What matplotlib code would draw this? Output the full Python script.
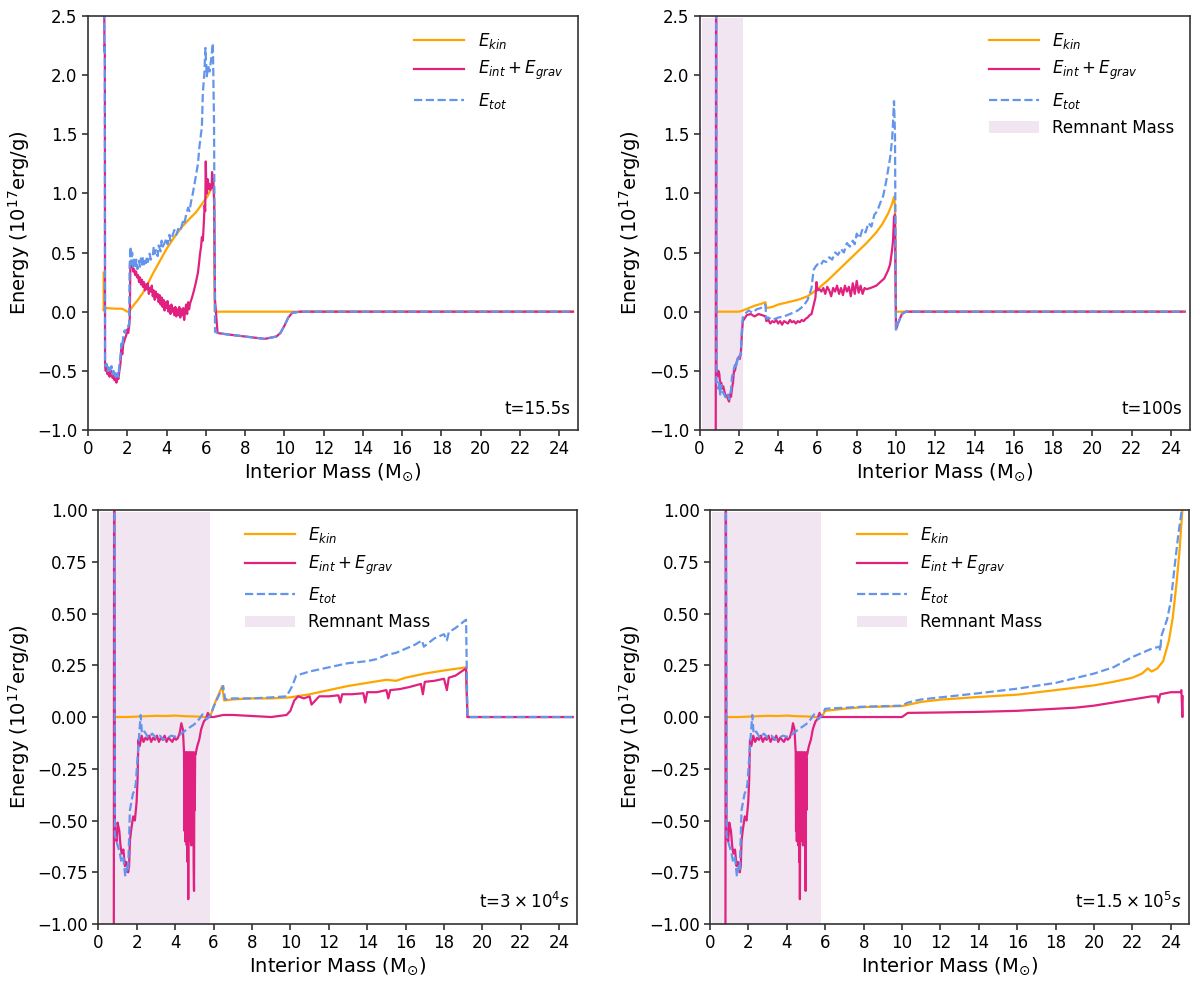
import matplotlib.pyplot as plt

c_kin = "#FFA500"
c_int = "#E0217F"
c_tot = "#6495ED"
c_rem = "purple"

# ---------------- panel 1 : t = 15.5 s ----------------
m1_kin = [0.80, 0.80, 0.82, 1.0, 1.4, 1.7, 1.8, 2.0, 2.1, 2.3, 2.5, 2.8, 3.0, 3.3, 3.6,
          4.0, 4.4, 4.8, 5.2, 5.5, 5.85, 6.1, 6.3, 6.42, 6.44, 6.46, 6.5, 24.7]
e1_kin = [0.33, 0.01, 0.03, 0.03, 0.025, 0.025, 0.02, 0.0, 0.0, 0.05, 0.09, 0.16, 0.22, 0.32, 0.41,
          0.53, 0.63, 0.72, 0.79, 0.84, 0.92, 0.98, 1.05, 1.05, 0.35, 0.0, 0.0, 0.0]

m1_int = [0.82, 0.84, 0.86, 0.87, 0.90, 0.95, 1.0, 1.05, 1.1, 1.15, 1.2, 1.25, 1.3, 1.35, 1.4,
          1.45, 1.5, 1.55, 1.6, 1.65, 1.7, 1.75, 1.8, 1.85, 1.9, 1.95, 2.0, 2.05, 2.1, 2.13,
          2.16, 2.2, 2.25, 2.3, 2.35, 2.4, 2.45, 2.5, 2.55, 2.6, 2.65, 2.7, 2.75, 2.8, 2.85, 2.9,
          2.95, 3.0, 3.05, 3.1, 3.15, 3.2, 3.25, 3.3, 3.35, 3.4, 3.45, 3.5, 3.55, 3.6, 3.65, 3.7,
          3.75, 3.8, 3.85, 3.9, 3.95, 4.0, 4.05, 4.1, 4.15, 4.2, 4.25, 4.3, 4.35, 4.4, 4.45, 4.5,
          4.55, 4.6, 4.65, 4.7, 4.75, 4.8, 4.85, 4.9, 4.95, 5.0, 5.05, 5.1, 5.15, 5.2, 5.3, 5.4,
          5.5, 5.6, 5.65, 5.7, 5.76, 5.8, 5.85, 5.9, 5.94, 5.97, 6.0, 6.02, 6.06, 6.1, 6.15,
          6.19, 6.23, 6.26, 6.3, 6.32, 6.36, 6.38, 6.43, 6.47]
e1_int = [3.0, 2.2, 2.25, -0.45, -0.5, -0.48, -0.53, -0.5, -0.55, -0.52, -0.5, -0.56, -0.54, -0.58, -0.56,
          -0.6, -0.55, -0.57, -0.5, -0.45, -0.32, -0.36, -0.27, -0.25, -0.22, -0.2, -0.15, -0.18, -0.12, -0.05,
          0.40, 0.38, 0.41, 0.34, 0.36, 0.31, 0.34, 0.29, 0.31, 0.25, 0.29, 0.23, 0.27, 0.21, 0.25, 0.18,
          0.23, 0.19, 0.24, 0.15, 0.2, 0.17, 0.22, 0.13, 0.18, 0.1, 0.17, 0.12, 0.15, 0.08, 0.14, 0.06,
          0.12, 0.04, 0.1, 0.01, 0.08, 0.03, 0.09, 0.0, 0.05, -0.02, 0.06, 0.0, 0.03, -0.03, 0.04, -0.04,
          0.02, -0.03, 0.04, -0.05, 0.02, -0.03, 0.03, -0.07, 0.01, 0.06, -0.02, 0.08, 0.02, 0.07, 0.12, 0.18,
          0.25, 0.33, 0.4, 0.48, 0.55, 0.63, 0.6, 0.75, 0.9, 0.85, 1.27, 1.09, 1.0, 1.12, 1.04,
          1.08, 1.03, 1.07, 1.05, 1.18, 1.08, 1.12, 0.9, 0.1]

m1_tot = [0.82, 0.84, 0.86, 0.87, 0.90, 0.95, 1.0, 1.05, 1.1, 1.15, 1.2, 1.25, 1.3, 1.35, 1.4,
          1.45, 1.5, 1.55, 1.6, 1.65, 1.7, 1.75, 1.8, 1.86, 1.9, 1.95, 2.03, 2.1, 2.12,
          2.17, 2.2, 2.25, 2.3, 2.35, 2.4, 2.46, 2.52, 2.6, 2.65, 2.7, 2.75, 2.8, 2.85, 2.9, 2.95,
          3.0, 3.05, 3.14, 3.2, 3.3, 3.35, 3.4, 3.47, 3.55, 3.6, 3.7, 3.75, 3.81, 3.9, 4.0,
          4.05, 4.15, 4.2, 4.3, 4.4, 4.5, 4.6, 4.7, 4.83, 4.9, 5.0, 5.1, 5.17, 5.25, 5.34, 5.5,
          5.6, 5.68, 5.76, 5.8, 5.85, 5.93, 5.98, 6.05, 6.12, 6.19, 6.27, 6.36, 6.42, 6.47]
e1_tot = [3.0, 2.2, 2.25, -0.45, -0.46, -0.44, -0.5, -0.47, -0.52, -0.48, -0.46, -0.53, -0.5, -0.55, -0.52,
          -0.57, -0.52, -0.55, -0.45, -0.38, -0.27, -0.3, -0.2, -0.16, -0.18, -0.13, -0.13, -0.1, 0.38,
          0.55, 0.4, 0.5, 0.38, 0.44, 0.37, 0.44, 0.36, 0.43, 0.38, 0.45, 0.39, 0.46, 0.4, 0.45, 0.41,
          0.47, 0.42, 0.49, 0.44, 0.47, 0.55, 0.49, 0.52, 0.47, 0.56, 0.51, 0.6, 0.55, 0.58, 0.62,
          0.57, 0.65, 0.6, 0.64, 0.69, 0.65, 0.7, 0.68, 0.76, 0.74, 0.82, 0.88, 0.85, 0.93, 1.0, 1.15,
          1.25, 1.4, 1.51, 1.55, 1.85, 2.02, 2.23, 1.99, 2.08, 2.03, 2.13, 2.27, 1.6, -0.17]

m1_tail = [6.6, 7.0, 7.5, 8.0, 8.5, 9.0, 9.3, 9.6, 9.8, 10.0, 10.2, 10.4, 10.8, 24.7]
e1_tail = [-0.18, -0.19, -0.2, -0.21, -0.22, -0.23, -0.22, -0.21, -0.18, -0.12, -0.05, -0.01, 0.0, 0.0]

# ---------------- panel 2 : t = 100 s ----------------
m2_kin = [0.86, 1.5, 2.0, 2.2, 2.5, 2.8, 3.0, 3.2, 3.35, 3.4, 3.7, 4.0, 4.5, 5.0, 5.5, 6.0, 6.5,
          7.0, 7.5, 8.0, 8.5, 9.0, 9.3, 9.6, 9.8, 9.9, 9.95, 10.0, 24.7]
e2_kin = [0.0, 0.0, 0.0, 0.01, 0.03, 0.05, 0.06, 0.07, 0.08, 0.03, 0.04, 0.06, 0.08, 0.1, 0.13, 0.19, 0.26,
          0.34, 0.42, 0.5, 0.58, 0.67, 0.74, 0.83, 0.91, 0.97, 0.9, 0.0, 0.0]

m2_int = [0.82, 0.84, 0.86, 0.9, 0.95, 1.0, 1.05, 1.1, 1.15, 1.2, 1.3, 1.4, 1.5, 1.55, 1.6, 1.65,
          1.7, 1.75, 1.8, 1.85, 1.9, 1.95, 2.0, 2.05, 2.1, 2.15, 2.2, 2.4, 2.6, 2.8, 3.0, 3.2,
          3.35, 3.4, 3.5, 3.6, 3.7, 3.8, 3.9, 4.0, 4.1, 4.2, 4.3, 4.4, 4.5, 4.6, 4.7, 4.8, 4.9,
          5.0, 5.1, 5.2, 5.3, 5.4, 5.5, 5.6, 5.7, 5.8, 5.9, 5.95,
          6.0, 6.1, 6.2, 6.3, 6.4, 6.5, 6.6, 6.7, 6.8, 6.9, 7.0, 7.1, 7.2, 7.3, 7.4, 7.5, 7.6,
          7.7, 7.8, 7.9, 8.0, 8.1, 8.2, 8.3, 8.4, 8.5, 8.7, 9.0, 9.2, 9.4, 9.6, 9.7, 9.8, 9.85,
          9.9, 9.95, 10.0]
e2_int = [-1.5, 3.0, -0.55, -0.55, -0.5, -0.52, -0.62, -0.6, -0.65, -0.63, -0.7, -0.72, -0.76, -0.7, -0.72, -0.65,
          -0.6, -0.5, -0.5, -0.45, -0.42, -0.4, -0.38, -0.4, -0.35, -0.2, -0.08, -0.03, -0.02, -0.04, -0.02, -0.03,
          -0.04, -0.08, -0.07, -0.1, -0.08, -0.09, -0.07, -0.1, -0.08, -0.11, -0.08, -0.09, -0.1, -0.07, -0.09, -0.08, -0.1,
          -0.08, -0.09, -0.07, -0.08, -0.06, -0.05, -0.03, -0.02, 0.05, 0.12, 0.25,
          0.18, 0.19, 0.17, 0.2, 0.15, 0.21, 0.18, 0.13, 0.2, 0.17, 0.22, 0.15, 0.2, 0.14, 0.22, 0.17, 0.21,
          0.13, 0.24, 0.15, 0.26, 0.16, 0.22, 0.15, 0.2, 0.19, 0.2, 0.22, 0.25, 0.28, 0.35, 0.4, 0.52, 0.6,
          0.8, 0.82, -0.15]

m2_tot = [0.84, 0.86, 0.9, 0.95, 1.0, 1.05, 1.1, 1.15, 1.2, 1.3, 1.4, 1.45, 1.5, 1.55, 1.6, 1.65,
          1.7, 1.75, 1.8, 1.85, 1.9, 1.95, 2.0, 2.1, 2.15, 2.2, 2.3, 2.5, 2.7, 2.9, 3.1, 3.3,
          3.35, 3.4, 3.5, 3.7, 4.0, 4.3, 4.6, 5.0, 5.3, 5.5, 5.7, 5.8, 5.9, 6.0, 6.15, 6.3, 6.45,
          6.6, 6.75, 6.9, 7.05, 7.2, 7.35, 7.5, 7.65, 7.8, 7.9, 8.0, 8.15, 8.3, 8.45, 8.6, 8.75,
          8.9, 9.05, 9.2, 9.35, 9.5, 9.6, 9.7, 9.8, 9.85, 9.9, 9.95, 10.0]
e2_tot = [3.0, -0.6, -0.6, -0.65, -0.6, -0.7, -0.62, -0.68, -0.68, -0.72, -0.73, -0.7, -0.74, -0.7, -0.66, -0.55,
          -0.52, -0.48, -0.45, -0.48, -0.42, -0.38, -0.4, -0.35, -0.15, -0.05, -0.02, 0.01, -0.01, 0.02, 0.03, 0.05,
          0.06, -0.06, -0.05, -0.07, -0.05, -0.04, -0.02, 0.01, 0.05, 0.1, 0.2, 0.35, 0.38, 0.4, 0.39, 0.43, 0.42,
          0.46, 0.44, 0.5, 0.48, 0.53, 0.5, 0.58, 0.55, 0.6, 0.57, 0.66, 0.62, 0.7, 0.67, 0.75, 0.72,
          0.82, 0.85, 0.92, 0.98, 1.1, 1.2, 1.3, 1.45, 1.6, 1.78, 1.5, -0.15]

m2_tail = [10.1, 10.3, 10.5, 24.7]
e2_tail = [-0.1, -0.02, 0.0, 0.0]

# ---------------- panels 3 and 4 : inner region (remnant) ----------------
m_in_int = [0.80, 0.82, 0.86, 0.95, 1.0, 1.09, 1.15, 1.21, 1.3, 1.38, 1.45, 1.55, 1.6, 1.64, 1.7,
            1.81, 1.9, 1.99, 2.04, 2.08, 2.15, 2.25, 2.35, 2.45, 2.55, 2.65, 2.75, 2.85, 2.95, 3.05,
            3.15, 3.25, 3.35, 3.45, 3.55, 3.65, 3.75, 3.85, 3.95, 4.05, 4.15, 4.25, 4.32, 4.4,
            4.46, 4.48, 4.50, 4.52, 4.54, 4.56, 4.58, 4.60, 4.62, 4.64, 4.66, 4.68, 4.70, 4.72,
            4.74, 4.76, 4.78, 4.80, 4.82, 4.84, 4.86, 4.88, 4.90, 4.92, 4.94, 4.96, 4.98, 5.00,
            5.02, 5.04, 5.06, 5.15, 5.25, 5.35, 5.42, 5.5, 5.6, 5.7, 5.81]
e_in_int = [-1.5, 1.5, -0.57, -0.6, -0.51, -0.55, -0.62, -0.66, -0.64, -0.72, -0.7, -0.75, -0.72, -0.6, -0.55,
            -0.48, -0.5, -0.41, -0.3, -0.11, -0.14, -0.09, -0.12, -0.1, -0.11, -0.09, -0.12, -0.1, -0.11, -0.09,
            -0.12, -0.1, -0.11, -0.09, -0.12, -0.1, -0.11, -0.12, -0.1, -0.11, -0.1, -0.07, -0.03, -0.06,
            -0.17, -0.55, -0.18, -0.6, -0.17, -0.58, -0.18, -0.62, -0.17, -0.7, -0.18, -0.88, -0.17, -0.6,
            -0.18, -0.57, -0.17, -0.55, -0.18, -0.62, -0.17, -0.58, -0.18, -0.6, -0.17, -0.7, -0.84, -0.2,
            -0.45, -0.17, -0.18, -0.14, -0.11, -0.06, -0.04, -0.02, -0.01, 0.02, 0.0]

m_in_tot = [0.82, 0.86, 1.0, 1.1, 1.2, 1.3, 1.4, 1.5, 1.55, 1.64, 1.7, 1.8, 1.9, 1.95,
            2.08, 2.2, 2.27, 2.4, 2.6, 2.8, 3.0, 3.2, 3.4, 3.6, 3.8, 4.0, 4.25, 4.6, 5.0, 5.25,
            5.42, 5.65, 5.85]
e_in_tot = [1.5, -0.57, -0.62, -0.65, -0.7, -0.68, -0.77, -0.72, -0.74, -0.45, -0.42, -0.37, -0.35, -0.32,
            -0.14, 0.01, -0.08, -0.07, -0.1, -0.08, -0.1, -0.09, -0.11, -0.1, -0.09, -0.095, -0.085, -0.06, -0.035, -0.01,
            0.013, -0.01, 0.01]

m_in_kin = [0.86, 1.5, 2.0, 2.5, 3.0, 3.5, 4.0, 4.5, 5.0, 5.5, 5.81]
e_in_kin = [0.0, 0.0, 0.002, 0.004, 0.006, 0.005, 0.007, 0.004, 0.003, 0.0, 0.0]

# ---------------- panel 3 : t = 3e4 s (outer) ----------------
m3_kin = [6.08, 6.45, 6.55, 7.0, 8.0, 9.0, 10.0, 11.0, 12.0, 13.0, 14.0, 15.0, 15.5, 16.0, 17.0,
          18.0, 19.15, 19.22, 24.7]
e3_kin = [0.07, 0.15, 0.08, 0.085, 0.09, 0.09, 0.095, 0.11, 0.13, 0.15, 0.165, 0.18, 0.175, 0.19, 0.21,
          0.225, 0.24, 0.0, 0.0]

m3_int = [6.0, 6.5, 7.0, 8.0, 9.0, 9.8, 10.0, 10.2, 10.4, 10.7, 11.0, 11.1, 11.5, 12.0, 12.5, 12.6,
          12.7, 13.2, 13.8, 13.9, 14.0, 14.5, 15.0, 15.1, 15.2, 15.7, 16.2, 16.8, 16.9, 17.0, 17.5,
          18.0, 18.15, 18.25, 18.6, 19.15, 19.22, 24.7]
e3_int = [0.0, 0.01, 0.01, 0.005, 0.0, 0.01, 0.03, 0.08, 0.1, 0.09, 0.1, 0.06, 0.1, 0.1, 0.105, 0.07,
          0.11, 0.11, 0.115, 0.07, 0.12, 0.12, 0.13, 0.09, 0.13, 0.135, 0.145, 0.16, 0.11, 0.17, 0.175,
          0.185, 0.13, 0.19, 0.2, 0.235, 0.0, 0.0]

m3_tot = [6.0, 6.5, 6.6, 7.0, 8.0, 9.0, 9.8, 10.1, 10.3, 11.0, 11.5, 12.0, 12.5, 13.0, 13.5, 14.0,
          14.5, 15.0, 15.5, 16.0, 16.5, 16.85, 16.95, 17.5, 18.0, 18.15, 18.25, 18.6, 19.15, 19.22, 24.7]
e3_tot = [0.05, 0.15, 0.085, 0.09, 0.09, 0.095, 0.1, 0.15, 0.2, 0.22, 0.23, 0.24, 0.25, 0.26, 0.265, 0.27,
          0.28, 0.3, 0.31, 0.33, 0.35, 0.37, 0.34, 0.38, 0.4, 0.37, 0.41, 0.43, 0.47, 0.0, 0.0]

# ---------------- panel 4 : t = 1.5e5 s (outer) ----------------
m4_kin = [6.0, 7.0, 8.0, 10.0, 11.0, 12.0, 14.0, 16.0, 18.0, 20.0, 21.0, 22.0, 22.5, 22.8, 23.0,
          23.3, 23.6, 23.9, 24.1, 24.3, 24.45, 24.6]
e4_kin = [0.03, 0.04, 0.048, 0.053, 0.073, 0.084, 0.097, 0.108, 0.13, 0.153, 0.17, 0.19, 0.21, 0.235, 0.22,
          0.235, 0.27, 0.37, 0.48, 0.65, 0.8, 1.0]

m4_int = [6.0, 8.0, 10.0, 10.3, 12.0, 14.0, 16.0, 18.0, 19.0, 20.0, 21.0, 22.0, 23.0, 23.3, 23.35,
          23.45, 24.0, 24.5, 24.55, 24.6, 24.62]
e4_int = [0.0, 0.0, 0.0, 0.02, 0.022, 0.025, 0.03, 0.04, 0.045, 0.055, 0.07, 0.085, 0.1, 0.1, 0.07,
          0.11, 0.12, 0.12, 0.13, 0.0, 0.1]

m4_tot = [6.0, 7.0, 8.0, 10.0, 10.3, 11.0, 12.0, 14.0, 16.0, 18.0, 20.0, 21.0, 22.0, 23.0, 23.4,
          23.45, 23.5, 23.8, 24.0, 24.2, 24.4, 24.6]
e4_tot = [0.04, 0.045, 0.05, 0.055, 0.07, 0.085, 0.095, 0.115, 0.137, 0.165, 0.21, 0.24, 0.29, 0.33, 0.34,
          0.32, 0.39, 0.47, 0.56, 0.73, 0.89, 1.02]

panels = [
    dict(pos=[0.0733, 0.5635, 0.4083, 0.4203], ylim=(-1.0, 2.5), yticks=[-1.0, -0.5, 0.0, 0.5, 1.0, 1.5, 2.0, 2.5],
         kin=(m1_kin, e1_kin), int=(m1_int + m1_tail, e1_int + e1_tail), tot=(m1_tot + m1_tail, e1_tot + e1_tail),
         rem=None, label="t=15.5s", loc="upper right"),
    dict(pos=[0.583, 0.5635, 0.4083, 0.4203], ylim=(-1.0, 2.5), yticks=[-1.0, -0.5, 0.0, 0.5, 1.0, 1.5, 2.0, 2.5],
         kin=(m2_kin, e2_kin), int=(m2_int + m2_tail, e2_int + e2_tail), tot=(m2_tot + m2_tail, e2_tot + e2_tail),
         rem=(0.1, 2.22), label="t=100s", loc="upper right"),
    dict(pos=[0.082, 0.0619, 0.3992, 0.4203], ylim=(-1.0, 1.0), yticks=[-1.0, -0.75, -0.5, -0.25, 0.0, 0.25, 0.5, 0.75, 1.0],
         kin=(m_in_kin + m3_kin, e_in_kin + e3_kin), int=(m_in_int + m3_int, e_in_int + e3_int),
         tot=(m_in_tot + m3_tot, e_in_tot + e3_tot),
         rem=(0.1, 5.8), label=r"t=$3\times10^4s$", loc="upper center"),
    dict(pos=[0.5917, 0.0619, 0.3992, 0.4203], ylim=(-1.0, 1.0), yticks=[-1.0, -0.75, -0.5, -0.25, 0.0, 0.25, 0.5, 0.75, 1.0],
         kin=(m_in_kin + m4_kin, e_in_kin + e4_kin), int=(m_in_int + m4_int, e_in_int + e4_int),
         tot=(m_in_tot + m4_tot, e_in_tot + e4_tot),
         rem=(0.1, 5.8), label=r"t=$1.5\times10^5s$", loc="upper center"),
]

fig = plt.figure(figsize=(12, 9.85), dpi=100)
for p in panels:
    ax = fig.add_axes(p["pos"])
    ax.plot(*p["kin"], color=c_kin, lw=1.6, label=r"$E_{kin}$")
    ax.plot(*p["int"], color=c_int, lw=1.6, label=r"$E_{int}+E_{grav}$")
    ax.plot(*p["tot"], color=c_tot, lw=1.6, ls="--", label=r"$E_{tot}$")
    if p["rem"] is not None:
        ax.axvspan(p["rem"][0], p["rem"][1], ymax=0.995, color=c_rem, alpha=0.1, lw=0, label="Remnant Mass")
    ax.set_xlim(0, 24.95)
    ax.set_ylim(*p["ylim"])
    ax.set_xticks(range(0, 25, 2))
    ax.set_yticks(p["yticks"])
    ax.tick_params(labelsize=12, width=1.2, length=4, color="#333333")
    for s in ax.spines.values():
        s.set_color("#333333")
        s.set_linewidth(1.2)
    ax.set_xlabel(r"Interior Mass (M$_{\odot}$)", fontsize=14, labelpad=2)
    ax.set_ylabel(r"Energy ($10^{17}$erg/g)", fontsize=14)
    ax.text(0.985, 0.03, p["label"], transform=ax.transAxes, ha="right", va="bottom", fontsize=12)
    ax.legend(loc=p["loc"], frameon=False, fontsize=12, handlelength=3.0)

fig.savefig("out.png", dpi=100)
